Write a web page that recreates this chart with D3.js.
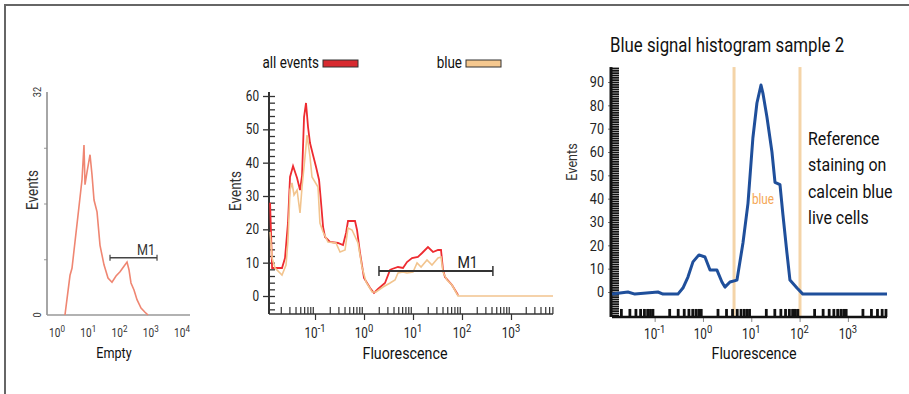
<!DOCTYPE html>
<html>
<head>
<meta charset="utf-8">
<script src="https://cdn.jsdelivr.net/npm/d3@7"></script>
<style>
	body { margin: 0; background: #fff; }
	svg { display: block; font-family: Roboto, "Liberation Sans", sans-serif; }
</style>
</head>
<body>
<svg id="chart" width="909" height="394"></svg>
<script>
// left panel: "Empty" control histogram
const emptyFluor = [1.8, 2.61, 3.02, 4.7, 6.31, 7.31, 7.87, 9.12, 11.4, 13.2, 15.3, 19.1, 23.8, 31.9, 42.9, 57.5, 77.3, 104, 139, 174, 201, 233, 291, 363, 488, 655, 817];
const emptyEvents = [0, 5.7, 6.7, 14.3, 19.4, 24.4, 18.7, 20.5, 23.0, 20.1, 16.5, 14.8, 10.0, 7.2, 5.3, 4.7, 5.6, 6.2, 7.0, 7.6, 6.5, 4.6, 3.6, 2.2, 1.0, 0.4, 0];
const emptyM1 = [49.7, 1585];
const emptyM1Level = 8.2;
const emptyDecades = [0, 1, 2, 3, 4];

// middle panel: all events vs blue
const allFluor = [0.0121, 0.0133, 0.0212, 0.0244, 0.0281, 0.0309, 0.0356, 0.043, 0.0494, 0.0543, 0.0597, 0.0655, 0.072, 0.0791, 0.091, 0.105, 0.121, 0.133, 0.146, 0.16, 0.202, 0.294, 0.373, 0.43, 0.471, 0.655, 0.72, 0.829, 1.0, 1.33, 1.6, 1.93, 2.68, 3.4, 3.73, 4.94, 6.25, 7.54, 9.54, 12.6, 15.3, 20.2, 25.6, 32.4, 37.3, 41.0, 45.0, 62.5, 82.9];
const allEvents = [28, 8.4, 8.4, 11.4, 22, 35.7, 39, 35.4, 31.8, 36, 53.7, 57.9, 50.7, 45.9, 42.3, 38.7, 34.8, 27.9, 20.7, 17.7, 16.2, 15.9, 15.3, 18.9, 22.5, 22.5, 19.8, 12.9, 5.4, 2.4, 0.9, 2.1, 3.9, 7.8, 8.1, 8.7, 8.4, 10.2, 11.4, 11.7, 12.9, 14.7, 13.2, 13.8, 13.8, 7.8, 5.7, 3.3, 0.3];
const blueFluor = [0.0121, 0.0133, 0.0153, 0.0212, 0.0256, 0.0281, 0.0309, 0.0339, 0.0373, 0.043, 0.0494, 0.0543, 0.0625, 0.0687, 0.0791, 0.0868, 0.115, 0.126, 0.146, 0.184, 0.268, 0.324, 0.41, 0.471, 0.569, 0.755, 0.91, 1.1, 1.46, 1.76, 2.44, 3.4, 4.29, 4.94, 6.25, 7.54, 10.0, 12.1, 14.6, 19.3, 24.4, 32.4, 37.3, 41.0, 49.4, 62.5, 82.9, 7200];
const blueEvents = [19.2, 11.4, 8.4, 6.3, 9.3, 16.8, 31.8, 33.9, 30.3, 31.8, 24.9, 32.7, 41.7, 48.3, 41.7, 35.7, 32.7, 21.9, 19.2, 16.2, 15.9, 13.2, 13.8, 20.4, 19.8, 15.9, 8.7, 4.2, 1.2, 1.2, 2.7, 3.9, 4.8, 6.9, 7.2, 6.9, 7.2, 9.9, 8.7, 10.8, 9.3, 11.4, 11.7, 7.2, 4.8, 3.3, 0, 0];
const midM1 = [2.02, 427];
const midM1Level = 7.5;
const midDecades = [-1, 0, 1, 2, 3];
const midEventTicks = [0, 10, 20, 30, 40, 50, 60];
const legendNames = ["all events", "blue"];

// right panel: blue signal histogram sample 2
const sample2Fluor = [0.0131, 0.028, 0.039, 0.117, 0.149, 0.303, 0.385, 0.489, 0.621, 0.826, 1.1, 1.4, 1.95, 2.47, 2.85, 3.62, 5.06, 6.73, 8.55, 10.8, 13.1, 15.9, 17.5, 21.1, 26.8, 31.0, 39.3, 45.3, 54.8, 63.2, 88.4, 117, 6450];
const sample2Events = [-0.9, 0, -0.9, 0, -0.9, -0.9, 1.7, 6.4, 12.9, 15.9, 15.0, 9.4, 9.4, 4.3, 2.1, 4.3, 5.1, 21, 38, 66, 81, 88.7, 85, 75, 60, 47, 46, 33, 16.7, 5.1, 1.7, -0.9, -0.9];
const blueGate = [4.4, 102];
const rightDecades = [-1, 0, 1, 2, 3];
const rightEventTicks = [0, 10, 20, 30, 40, 50, 60, 70, 80, 90];
const noteLines = ["Reference", "staining on", "calcein blue", "live cells"];

const SQUEEZE = 0.84;
const svg = d3.select("#chart");

svg.append("path")
	.attr("d", "M5,394V5H909")
	.attr("fill", "none")
	.attr("stroke", "#666")
	.attr("stroke-width", 2);

function minorTicks(domain) {
	let out = [];
	for (let e = -3; e <= 4; e++) {
		for (let k = 2; k <= 9; k++) {
			let v = k * Math.pow(10, e);
			if (v >= domain[0] && v <= domain[1]) out.push(v);
		}
	}
	return out;
}

// tick labels 10^n, narrowed with a scale transform
function powerLabels(g, x, decades, y, size, color) {
	decades.forEach((e) => {
		let t = g.append("text")
			.classed("done", true)
			.attr("transform", "translate(" + x(Math.pow(10, e)) + "," + y + ") scale(" + SQUEEZE + ",1)")
			.attr("text-anchor", "middle")
			.attr("font-size", size)
			.attr("fill", color)
			.text("10");
		t.append("tspan")
			.attr("dy", -size * 0.42)
			.attr("font-size", size * 0.8)
			.text(e);
	});
}

function cleanAxis(g) {
	g.select(".domain").remove();
	g.attr("font-family", null);
}

// ---------- left panel ----------
const xL = d3.scaleLog().domain([0.479, 18000]).range([47, 190]);
const yL = d3.scaleLinear().domain([0, 32]).range([315, 92]);
const left = svg.append("g");

left.append("g")
	.attr("transform", "translate(47,0)")
	.call(d3.axisLeft(yL).tickValues([8, 16, 24]).tickSize(3).tickFormat(""))
	.call(cleanAxis)
	.selectAll("line").attr("stroke", "#999");

left.append("line")
	.attr("x1", xL.range()[0]).attr("x2", xL.range()[0])
	.attr("y1", yL(32)).attr("y2", yL(0))
	.attr("stroke", "#888").attr("stroke-width", 1.5);
left.append("line")
	.attr("x1", xL.range()[0]).attr("x2", xL.range()[1])
	.attr("y1", yL(0)).attr("y2", yL(0))
	.attr("stroke", "#999").attr("stroke-width", 1.5);

[0, 32].forEach((v) => {
	left.append("text")
		.attr("transform", "translate(41," + yL(v) + ") rotate(-90)")
		.attr("text-anchor", "middle")
		.attr("font-size", 11)
		.attr("fill", "#333")
		.text(v);
});

left.append("path")
	.datum(d3.zip(emptyFluor, emptyEvents))
	.attr("fill", "none")
	.attr("stroke", "#ef8672")
	.attr("stroke-width", 1.6)
	.attr("d", d3.line().x((d) => xL(d[0])).y((d) => yL(d[1])));

left.append("line")
	.attr("x1", xL(emptyM1[0])).attr("x2", xL(emptyM1[1]))
	.attr("y1", yL(emptyM1Level)).attr("y2", yL(emptyM1Level))
	.attr("stroke", "#444").attr("stroke-width", 1.5);
emptyM1.forEach((v) => {
	left.append("line")
		.attr("x1", xL(v)).attr("x2", xL(v))
		.attr("y1", yL(emptyM1Level) - 3).attr("y2", yL(emptyM1Level) + 3)
		.attr("stroke", "#444").attr("stroke-width", 1.2);
});
left.append("text")
	.attr("x", xL(emptyM1[1]) - 2)
	.attr("y", yL(emptyM1Level) - 3)
	.attr("text-anchor", "end")
	.attr("font-size", 15)
	.attr("fill", "#333")
	.text("M1");

powerLabels(left, xL, emptyDecades, 337, 12, "#333");

left.append("text")
	.attr("x", 114).attr("y", 358)
	.attr("text-anchor", "middle")
	.attr("font-size", 15)
	.attr("fill", "#111")
	.text("Empty");
left.append("text")
	.attr("transform", "translate(38,190) rotate(-90)")
	.attr("text-anchor", "middle")
	.attr("font-size", 16)
	.attr("fill", "#333")
	.text("Events");

// ---------- middle panel ----------
const xM = d3.scaleLog().domain([0.0115, 7200]).range([269, 553]);
const yM = d3.scaleLinear().domain([0, 60]).range([296, 96]);
const mid = svg.append("g");
const midBottom = yM(-5.4);

mid.append("g")
	.attr("transform", "translate(" + xM.range()[0] + ",0)")
	.call(d3.axisRight(yM).tickValues(d3.range(-4, 61, 2)).tickSize(6).tickFormat(""))
	.call(cleanAxis)
	.selectAll("line").attr("stroke", "#333").attr("stroke-width", 1.3);

const yAxisMid = mid.append("g")
	.attr("transform", "translate(" + xM.range()[0] + ",0)")
	.call(d3.axisLeft(yM).tickValues(midEventTicks).tickSize(6).tickPadding(4))
	.call(cleanAxis);
yAxisMid.selectAll("line").attr("stroke", "#333").attr("stroke-width", 1.3);
yAxisMid.selectAll("text").attr("font-size", 14).attr("fill", "#222");

mid.append("line")
	.attr("x1", xM.range()[0]).attr("x2", xM.range()[0])
	.attr("y1", yM(61.2)).attr("y2", midBottom)
	.attr("stroke", "#333").attr("stroke-width", 2);

mid.append("g")
	.attr("transform", "translate(0," + midBottom + ")")
	.call(d3.axisBottom(xM).tickValues(minorTicks(xM.domain())).tickSize(-7).tickFormat(""))
	.call(cleanAxis)
	.selectAll("line").attr("stroke", "#333").attr("stroke-width", 1.2);
mid.append("g")
	.attr("transform", "translate(0," + midBottom + ")")
	.call(d3.axisBottom(xM).tickValues(midDecades.map((e) => Math.pow(10, e))).tickSize(6).tickFormat(""))
	.call(cleanAxis)
	.selectAll("line").attr("stroke", "#333").attr("stroke-width", 1.2);
mid.append("line")
	.attr("x1", xM.range()[0]).attr("x2", xM.range()[1])
	.attr("y1", midBottom).attr("y2", midBottom)
	.attr("stroke", "#333").attr("stroke-width", 1.5);

const midLine = d3.line().x((d) => xM(d[0])).y((d) => yM(d[1]));
mid.append("path")
	.datum(d3.zip(allFluor, allEvents))
	.attr("fill", "none")
	.attr("stroke", "#ee2b30")
	.attr("stroke-width", 1.8)
	.attr("d", midLine);
mid.append("path")
	.datum(d3.zip(blueFluor, blueEvents))
	.attr("fill", "none")
	.attr("stroke", "#f2c48e")
	.attr("stroke-width", 1.6)
	.attr("d", midLine);

mid.append("line")
	.attr("x1", xM(midM1[0])).attr("x2", xM(midM1[1]))
	.attr("y1", yM(midM1Level)).attr("y2", yM(midM1Level))
	.attr("stroke", "#333").attr("stroke-width", 2);
midM1.forEach((v) => {
	mid.append("line")
		.attr("x1", xM(v)).attr("x2", xM(v))
		.attr("y1", yM(midM1Level) - 5).attr("y2", yM(midM1Level) + 5)
		.attr("stroke", "#333").attr("stroke-width", 1.5);
});
mid.append("text")
	.attr("x", xM(midM1[1]) - 15)
	.attr("y", yM(midM1Level) - 3)
	.attr("text-anchor", "end")
	.attr("font-size", 17)
	.attr("fill", "#222")
	.text("M1");

powerLabels(mid, xM, midDecades, 338, 14, "#222");

mid.append("text")
	.attr("x", 405).attr("y", 359)
	.attr("text-anchor", "middle")
	.attr("font-size", 17)
	.attr("fill", "#111")
	.text("Fluorescence");
mid.append("text")
	.attr("transform", "translate(241,191) rotate(-90)")
	.attr("text-anchor", "middle")
	.attr("font-size", 16)
	.attr("fill", "#333")
	.text("Events");

const legendColors = ["#d72a30", "#f5c88f"];
const legendEnds = [319, 462];
legendNames.forEach((name, i) => {
	mid.append("text")
		.attr("x", legendEnds[i]).attr("y", 68)
		.attr("text-anchor", "end")
		.attr("font-size", 16)
		.attr("fill", "#111")
		.text(name);
	mid.append("rect")
		.attr("x", legendEnds[i] + 4).attr("y", 60)
		.attr("width", 35).attr("height", 7)
		.attr("fill", legendColors[i])
		.attr("stroke", "#333").attr("stroke-width", 1);
});

// ---------- right panel ----------
const xR = d3.scaleLog().domain([0.0131, 6450]).range([612, 887]);
const yR = d3.scaleLinear().domain([0, 90]).range([292, 82]);
const right = svg.append("g");
const rightBottom = yR(-10.7);
const rightTop = yR(96.4);

right.append("text")
	.attr("x", 610).attr("y", 52)
	.attr("font-size", 20)
	.attr("fill", "#111")
	.text("Blue signal histogram sample 2");

blueGate.forEach((v) => {
	right.append("line")
		.attr("x1", xR(v)).attr("x2", xR(v))
		.attr("y1", rightTop).attr("y2", rightBottom)
		.attr("stroke", "#f4d4a8").attr("stroke-width", 3);
});
right.append("text")
	.attr("x", xR(Math.sqrt(blueGate[0] * blueGate[1])) - 4)
	.attr("y", yR(40) + 5)
	.attr("text-anchor", "middle")
	.attr("font-size", 14)
	.attr("fill", "#f5a857")
	.text("blue");

right.append("g")
	.attr("transform", "translate(" + xR.range()[0] + ",0)")
	.call(d3.axisRight(yR).tickValues(d3.range(-10, 97, 1)).tickSize(7).tickFormat(""))
	.call(cleanAxis)
	.selectAll("line").attr("stroke", "#111").attr("stroke-width", 1.8);
const yAxisRight = right.append("g")
	.attr("transform", "translate(" + xR.range()[0] + ",0)")
	.call(d3.axisLeft(yR).tickValues(rightEventTicks).tickSize(4).tickPadding(4))
	.call(cleanAxis);
yAxisRight.selectAll("line").attr("stroke", "#777");
yAxisRight.selectAll("text").attr("font-size", 15).attr("fill", "#222");
right.append("line")
	.attr("x1", xR.range()[0] - 1).attr("x2", xR.range()[0] - 1)
	.attr("y1", rightTop).attr("y2", rightBottom)
	.attr("stroke", "#111").attr("stroke-width", 3);

right.append("g")
	.attr("transform", "translate(0," + rightBottom + ")")
	.call(d3.axisBottom(xR).tickValues(minorTicks(xR.domain())).tickSize(-8).tickFormat(""))
	.call(cleanAxis)
	.selectAll("line").attr("stroke", "#111").attr("stroke-width", 2.8);
right.append("g")
	.attr("transform", "translate(0," + rightBottom + ")")
	.call(d3.axisBottom(xR).tickValues(rightDecades.map((e) => Math.pow(10, e))).tickSize(5).tickFormat(""))
	.call(cleanAxis)
	.selectAll("line").attr("stroke", "#888");
right.append("line")
	.attr("x1", xR.range()[0]).attr("x2", xR.range()[1])
	.attr("y1", rightBottom).attr("y2", rightBottom)
	.attr("stroke", "#111").attr("stroke-width", 2.5);

right.append("path")
	.datum(d3.zip(sample2Fluor, sample2Events))
	.attr("fill", "none")
	.attr("stroke", "#1f4f9b")
	.attr("stroke-width", 3)
	.attr("stroke-linejoin", "round")
	.attr("d", d3.line().x((d) => xR(d[0])).y((d) => yR(d[1])));

powerLabels(right, xR, rightDecades, 339, 14, "#222");

right.append("text")
	.attr("x", 754).attr("y", 359)
	.attr("text-anchor", "middle")
	.attr("font-size", 17)
	.attr("fill", "#111")
	.text("Fluorescence");
right.append("text")
	.attr("transform", "translate(577,162) rotate(-90)")
	.attr("text-anchor", "middle")
	.attr("font-size", 15)
	.attr("fill", "#333")
	.text("Events");

noteLines.forEach((line, i) => {
	right.append("text")
		.attr("x", 808).attr("y", 145 + i * 26.3)
		.attr("font-size", 19)
		.attr("fill", "#111")
		.text(line);
});

// the original uses a condensed face: squeeze the remaining texts
svg.selectAll("text:not(.done)").each(function() {
	d3.select(this)
		.attr("textLength", this.getComputedTextLength() * SQUEEZE)
		.attr("lengthAdjust", "spacingAndGlyphs");
});
</script>
</body>
</html>
